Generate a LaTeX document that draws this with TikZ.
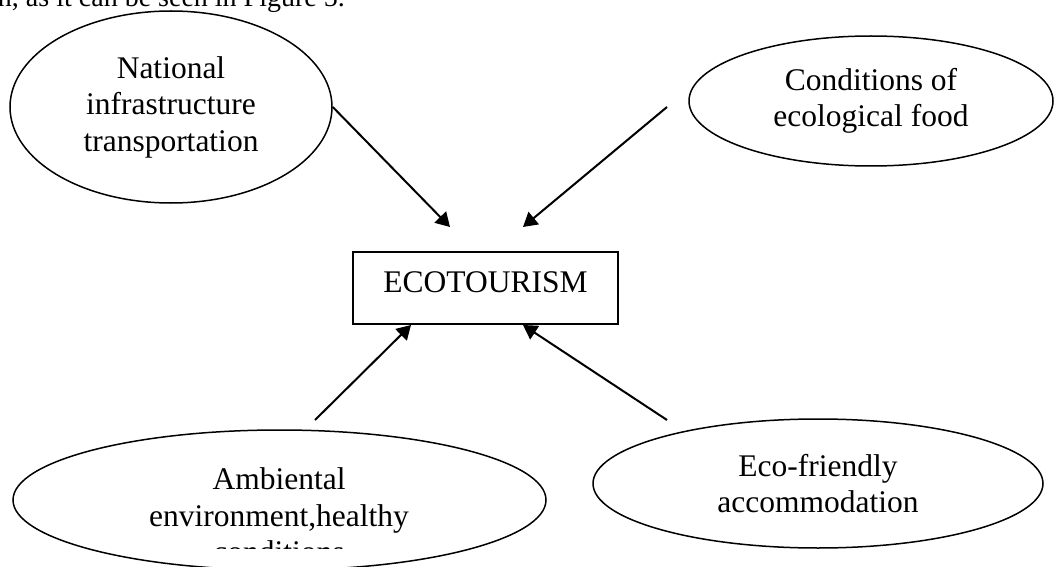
\documentclass[tikz,border=0pt]{standalone}
\usepackage{fontspec}
\setmainfont{Liberation Serif}
\usetikzlibrary{shapes.geometric,arrows.meta}
\begin{document}
\begin{tikzpicture}[x=1pt,y=-1pt,
  every node/.style={font=\fontsize{31.5}{36.5}\selectfont},
  oval/.style={draw,ellipse,line width=1.5pt,inner sep=0pt,align=center},
  mainbox/.style={draw,rectangle,line width=2pt,inner sep=0pt,
     minimum width=265pt,minimum height=72pt,text height=21.3pt,text depth=13.3pt},
  arr/.style={line width=2pt,-{Triangle[length=14pt,width=16pt]}}]
\useasboundingbox (0,0) rectangle (1055,567);
\begin{scope}
\clip (0,0) rectangle (1055,567);
\node[anchor=base east,inner sep=0pt,font=\fontsize{28}{34}\selectfont] (hdr) at (345,7) {n, as it can be seen in Figure 5.};
\node[oval,minimum width=322pt,minimum height=192pt] (nat) at (171,107)
  {National\\infrastructure\\transportation};
\node[oval,minimum width=364pt,minimum height=130pt] (food) at (871,101)
  {Conditions of\\ecological food};
\node[oval,minimum width=533pt,minimum height=140pt] (amb) at (279.5,500) {};
\node[oval,minimum width=450pt,minimum height=129pt] (acc) at (818,483.5)
  {Eco-friendly\\accommodation};
\node[mainbox] (eco) at (485.5,288) {ECOTOURISM};
\end{scope}
\begin{scope}
\clip (0,0) rectangle (1055,548);
\node[align=center,inner sep=0pt] (ambtxt) at (279,515.5)
  {Ambiental\\environment,healthy\\conditions};
\end{scope}
\coordinate (h1) at (450,227);
\coordinate (t2) at (667,107);
\coordinate (h2) at (523,227);
\coordinate (t3) at (315,420);
\coordinate (h3) at (411,325);
\coordinate (t4) at (667,420);
\coordinate (h4) at (523,325);
\draw[arr] (nat.east) -- (h1);
\draw[arr] (t2) -- (h2);
\draw[arr] (t3) -- (h3);
\draw[arr] (t4) -- (h4);
\end{tikzpicture}
\end{document}
